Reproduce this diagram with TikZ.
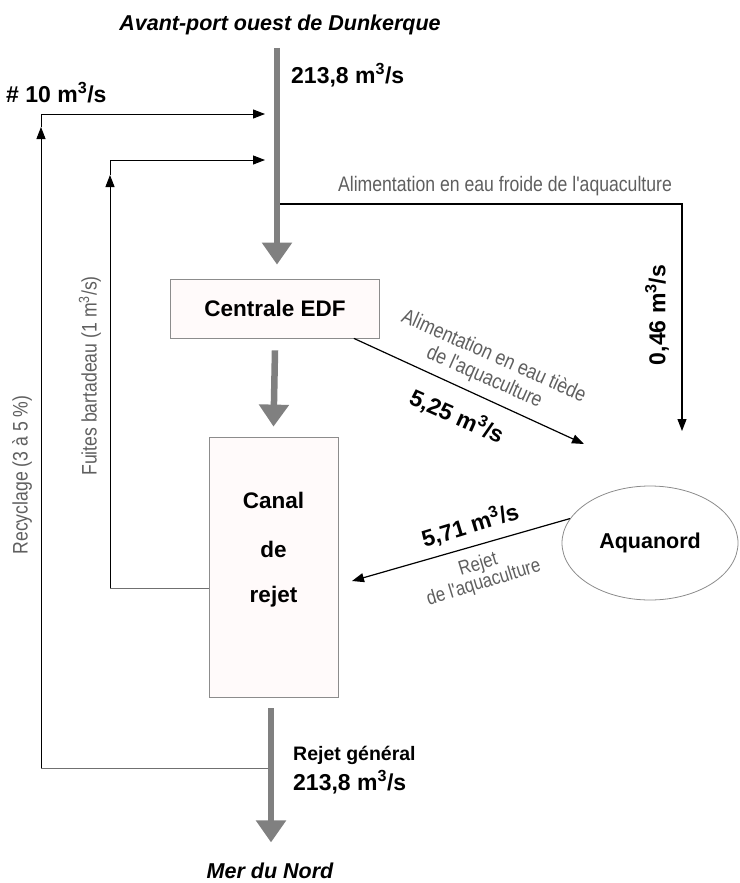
\documentclass[tikz,border=0pt]{standalone}
\usepackage{fontspec}
\setmainfont{Liberation Sans}
\newfontfamily\cond[FakeStretch=0.84]{Liberation Sans}
\usetikzlibrary{arrows.meta,shapes.geometric}
\definecolor{flow}{RGB}{128,128,128}
\definecolor{lbl}{RGB}{95,95,95}
\definecolor{edge}{RGB}{140,140,140}
\newcommand{\cube}{m\textsuperscript{3}/s}
\begin{document}
\begin{tikzpicture}[x=1pt,y=-1pt,
  titlelbl/.style={font=\fontsize{21.5}{25}\selectfont\bfseries\itshape, inner sep=0pt},
  boldlbl/.style={font=\fontsize{23}{27}\selectfont\bfseries, inner sep=0pt},
  namelbl/.style={font=\fontsize{22.5}{27}\selectfont\bfseries, inner sep=0pt},
  graylbl/.style={font=\cond\fontsize{21}{20}\selectfont, text=lbl, inner sep=0pt},
  boxnode/.style={draw=edge, line width=0.8pt, fill=red!2, inner sep=0pt},
  bigarrow/.style={draw=flow, line width=6.5pt, -{Triangle[width=29pt,length=22pt]}},
  thinline/.style={draw=black, line width=1.2pt},
  thinarrow/.style={thinline, -{Triangle[width=9pt,length=12pt]}},
  grayline/.style={draw=edge!80!black, line width=1pt}
]
\useasboundingbox (0,0) rectangle (739,883);

% main nodes
\node[titlelbl] (src) at (280,25) {Avant-port ouest de Dunkerque};
\node[boxnode, minimum width=209pt, minimum height=59pt, namelbl] (edf) at (275,308.5) {Centrale EDF};
\node[boxnode, minimum width=129pt, minimum height=260pt] (canal) at (273.5,567) {};
\node[namelbl] (c1) at (273.5,500) {Canal};
\node[namelbl] (c2) at (273.5,549) {de};
\node[namelbl] (c3) at (273.5,597) {rejet};
\node[ellipse, draw=edge, line width=0.8pt, fill=white, minimum width=176pt, minimum height=114pt, inner sep=0pt, namelbl, font=\fontsize{21.5}{25}\selectfont\bfseries] (aqua) at (650,543) {Aquanord};
\node[titlelbl] (sea) at (270,871) {Mer du Nord};

% coordinates
\coordinate (top) at (277,48);
\coordinate (j1) at (265,114);
\coordinate (j2) at (265,160);
\coordinate (cold0) at (280,204);
\coordinate (coldc) at (682,204);
\coordinate (cold1) at (682,431);
\coordinate (warm1) at (584,444);
\coordinate (rej1) at (352,581);
\coordinate (rec0) at (268,768);
\coordinate (rec1) at (41,768);
\coordinate (rec2) at (41,127);
\coordinate (rec3) at (41,114);
\coordinate (fu0) at (110,588);
\coordinate (fu1) at (110,175);
\coordinate (fu2) at (110,160);

% gray flows
\draw[bigarrow] (top) -- ([yshift=14pt]edf.north -| top);
\draw[bigarrow] ([yshift=-12pt]edf.south) -- ([yshift=10pt]canal.north);
\draw[bigarrow] ([yshift=-11pt]canal.south -| 271,0) -- ([yshift=-145pt]canal.south -| 271,0);

% recycling and leaks
\draw[grayline] (rec0) -- (rec1);
\draw[thinarrow, line width=1pt] (rec1) -- (rec2);
\draw[thinarrow, line width=1pt] (rec2) -- (rec3) -- (j1);
\draw[grayline] (canal.west |- fu0) -- (fu0);
\draw[thinarrow, line width=1pt] (fu0) -- (fu1);
\draw[thinarrow, line width=1pt] (fu1) -- (fu2) -- (j2);

% aquaculture loops
\draw[thinarrow] (cold0) -- (coldc) -- (cold1);
\draw[thinarrow] ([xshift=-26pt]edf.south east) -- (warm1);
\draw[thinarrow] (aqua.163) -- (rej1);

% labels
\node[boldlbl, anchor=west] (q0) at (291,75) {213,8 \cube};
\node[boldlbl, anchor=west] (q10) at (6,93) {\# 10 \cube};
\node[graylbl] (lcold) at (505,186) {Alimentation en eau froide de l'aquaculture};
\node[boldlbl, rotate=90] (q046) at (657,315) {0,46 \cube};
\node[graylbl, rotate=-24, align=center, font=\cond\fontsize{21}{23}\selectfont] (lwarm) at (489,367) {Alimentation en eau tiède\\de l'aquaculture};
\node[boldlbl, rotate=-24] (q525) at (457,416) {5,25 \cube};
\node[boldlbl, rotate=17] (q571) at (470,525) {5,71 \cube};
\node[graylbl, rotate=17, align=center, font=\cond\fontsize{20}{19}\selectfont] (lrej) at (481,574) {Rejet\\de l'aquaculture};
\node[boldlbl, anchor=west, font=\fontsize{19.5}{23}\selectfont\bfseries] (lgen) at (293,755) {Rejet général};
\node[boldlbl, anchor=west] (qgen) at (293,782) {213,8 \cube};
\node[graylbl, rotate=90] (lfu) at (90,376) {Fuites bartadeau (1 \cube)};
\node[graylbl, rotate=90] (lrec) at (22,475) {Recyclage (3 à 5 \%)};
\end{tikzpicture}
\end{document}
